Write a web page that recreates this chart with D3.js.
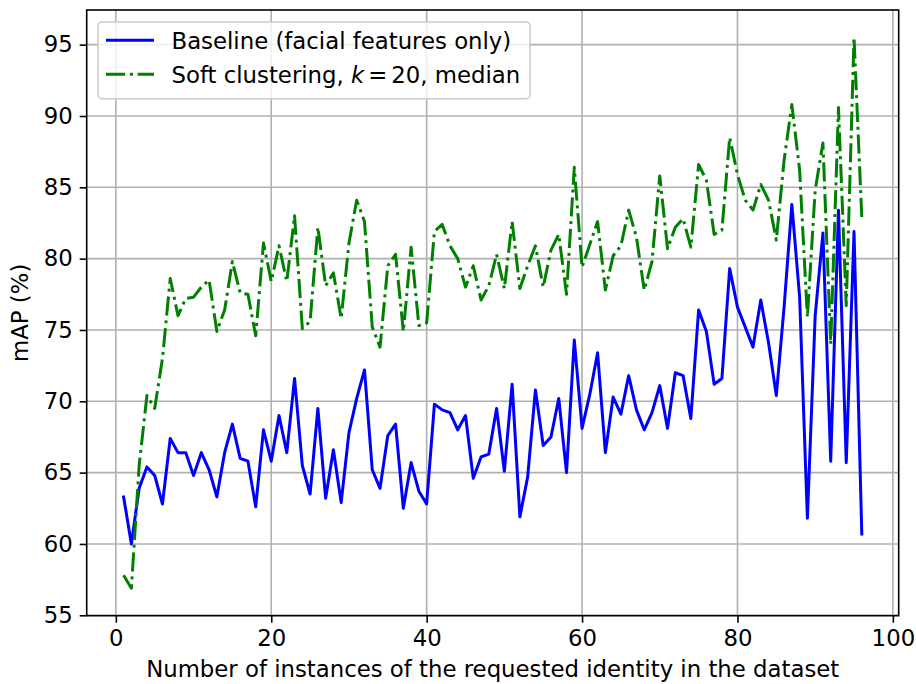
<!DOCTYPE html>
<html>
<head>
<meta charset="utf-8">
<script src="https://cdn.jsdelivr.net/npm/d3@7"></script>
<style>
  html, body { margin: 0; padding: 0; background: #fff; }
  svg { display: block; font-family: "DejaVu Sans", sans-serif; }
</style>
</head>
<body>
<svg id="chart" width="916" height="684"></svg>
<script>
// Number of instances of the requested identity (x) and mAP per method
const instances = d3.range(1, 97);

const baseline = [
  63.3, 60.0, 63.9, 65.4, 64.8, 62.8, 67.4, 66.4, 66.4, 64.8,
  66.4, 65.2, 63.3, 66.4, 68.4, 66.0, 65.8, 62.6, 68.0, 65.8,
  69.0, 66.4, 71.6, 65.5, 63.5, 69.5, 63.2, 66.6, 62.9, 67.8,
  70.2, 72.2, 65.2, 63.9, 67.6, 68.4, 62.5, 65.7, 63.7, 62.8,
  69.8, 69.4, 69.2, 68.0, 69.0, 64.6, 66.1, 66.3, 69.5, 65.1,
  71.2, 61.9, 64.7, 70.8, 66.9, 67.5, 70.2, 65.0, 74.3, 68.1,
  70.5, 73.4, 66.4, 70.3, 69.1, 71.8, 69.4, 68.0, 69.2, 71.1,
  68.1, 72.0, 71.8, 68.8, 76.4, 74.9, 71.2, 71.6, 79.3, 76.6,
  75.2, 73.8, 77.1, 74.1, 70.4, 76.6, 83.8, 77.3, 61.8, 76.0,
  81.8, 65.8, 83.4, 65.7, 81.9, 60.7
];

const softClustering = [
  57.8, 56.9, 65.5, 70.4, 69.5, 73.0, 78.6, 76.0, 77.2, 77.3,
  78.0, 78.5, 74.9, 76.4, 79.8, 77.6, 77.5, 74.6, 81.1, 78.4,
  80.9, 78.4, 83.0, 75.1, 75.6, 82.2, 78.1, 79.0, 75.8, 81.1,
  84.1, 82.6, 75.2, 73.8, 79.5, 80.3, 74.9, 80.8, 75.3, 75.5,
  81.9, 82.4, 80.9, 80.0, 78.0, 79.5, 77.1, 78.1, 80.3, 77.9,
  82.6, 77.9, 79.5, 80.9, 78.0, 80.6, 81.7, 77.5, 86.4, 79.4,
  81.0, 82.6, 77.8, 80.2, 80.9, 83.4, 81.5, 77.8, 79.8, 85.8,
  80.7, 82.2, 82.8, 80.8, 86.6, 85.5, 81.7, 82.0, 88.5, 85.9,
  84.1, 83.4, 85.2, 84.1, 81.3, 86.9, 90.8, 86.2, 75.9, 84.8,
  88.1, 74.0, 90.6, 76.7, 95.5, 82.9
];

const xTicks = [0, 20, 40, 60, 80, 100];
const yTicks = [55, 60, 65, 70, 75, 80, 85, 90, 95];

const seriesNames = ["Baseline (facial features only)", "Soft clustering, k = 20, median"];
const seriesColors = ["#0000ff", "#008000"];

const fontSize = 22.8;
const svg = d3.select("#chart");
const plot = { left: 86.7, right: 898.7, top: 10, bottom: 615.7 };

// Axis limits padded by 5% of the data span on each side
function padded(lo, hi) {
  const m = (hi - lo) * 0.05;
  return [lo - m, hi + m];
}
const xExt = d3.extent(instances);
const yExt = d3.extent(baseline.concat(softClustering));

const x = d3.scaleLinear().domain(padded(xExt[0], xExt[1])).range([plot.left, plot.right]);
const y = d3.scaleLinear().domain(padded(yExt[0], yExt[1])).range([plot.bottom, plot.top]);

// Grid
const grid = svg.append("g").attr("stroke", "#b0b0b0").attr("stroke-width", 1.6);
grid.selectAll("line.vx").data(xTicks).join("line")
  .attr("x1", d => x(d)).attr("x2", d => x(d))
  .attr("y1", plot.top).attr("y2", plot.bottom);
grid.selectAll("line.hy").data(yTicks).join("line")
  .attr("x1", plot.left).attr("x2", plot.right)
  .attr("y1", d => y(d)).attr("y2", d => y(d));

// Lines
svg.append("defs").append("clipPath").attr("id", "plotclip")
  .append("rect").attr("x", plot.left).attr("y", plot.top)
  .attr("width", plot.right - plot.left).attr("height", plot.bottom - plot.top);

const lineGen = d3.line().x((d, i) => x(instances[i])).y(d => y(d));
const lines = svg.append("g").attr("clip-path", "url(#plotclip)");
lines.append("path").datum(baseline)
  .attr("d", lineGen).attr("fill", "none")
  .attr("stroke", seriesColors[0]).attr("stroke-width", 3)
  .attr("stroke-linejoin", "round").attr("stroke-linecap", "square");
lines.append("path").datum(softClustering)
  .attr("d", lineGen).attr("fill", "none")
  .attr("stroke", seriesColors[1]).attr("stroke-width", 3)
  .attr("stroke-linejoin", "round").attr("stroke-linecap", "butt")
  .attr("stroke-dasharray", "19.1,4.8,3,4.8");

// Axes
const xAxis = d3.axisBottom(x).tickValues(xTicks).tickSize(7).tickPadding(7).tickFormat(d3.format("d"));
const yAxis = d3.axisLeft(y).tickValues(yTicks).tickSize(7).tickPadding(7).tickFormat(d3.format("d"));

const gx = svg.append("g").attr("transform", `translate(0,${plot.bottom})`).call(xAxis);
const gy = svg.append("g").attr("transform", `translate(${plot.left},0)`).call(yAxis);
[gx, gy].forEach(g => {
  g.select(".domain").remove();
  g.selectAll(".tick line").attr("stroke", "#000").attr("stroke-width", 1.6);
  g.selectAll(".tick text").attr("font-family", "DejaVu Sans").attr("font-size", fontSize).attr("fill", "#000");
});

// Frame
svg.append("rect")
  .attr("x", plot.left).attr("y", plot.top)
  .attr("width", plot.right - plot.left).attr("height", plot.bottom - plot.top)
  .attr("fill", "none").attr("stroke", "#000").attr("stroke-width", 1.6);

// Axis titles
svg.append("text")
  .attr("x", (plot.left + plot.right) / 2).attr("y", 677)
  .attr("text-anchor", "middle").attr("font-size", fontSize).attr("fill", "#000")
  .text("Number of instances of the requested identity in the dataset");
svg.append("text")
  .attr("transform", `translate(28,${(plot.top + plot.bottom) / 2}) rotate(-90)`)
  .attr("text-anchor", "middle").attr("font-size", fontSize).attr("fill", "#000")
  .text("mAP (%)");

// Legend
const legend = svg.append("g");
legend.append("rect")
  .attr("x", 98).attr("y", 22).attr("width", 432).attr("height", 76.7)
  .attr("rx", 4).attr("ry", 4)
  .attr("fill", "#fff").attr("fill-opacity", 0.8)
  .attr("stroke", "#cccccc").attr("stroke-width", 1.6);

const rowsY = [40.3, 74.3];
legend.append("line")
  .attr("x1", 106).attr("x2", 154).attr("y1", rowsY[0]).attr("y2", rowsY[0])
  .attr("stroke", seriesColors[0]).attr("stroke-width", 3);
legend.append("line")
  .attr("x1", 106).attr("x2", 154).attr("y1", rowsY[1]).attr("y2", rowsY[1])
  .attr("stroke", seriesColors[1]).attr("stroke-width", 3)
  .attr("stroke-dasharray", "19.1,4.8,3,4.8");

legend.append("text")
  .attr("x", 171.5).attr("y", rowsY[0] + 8.2)
  .attr("font-size", fontSize).attr("fill", "#000")
  .text(seriesNames[0]);

const t2 = legend.append("text")
  .attr("x", 171.5).attr("y", rowsY[1] + 8.2)
  .attr("font-size", fontSize).attr("fill", "#000")
  .attr("xml:space", "preserve");
t2.append("tspan").text("Soft clustering, ");
t2.append("tspan").attr("font-style", "italic").text("k");
t2.append("tspan").attr("dx", 4).text("=");
t2.append("tspan").attr("dx", 4).text("20, median");
</script>
</body>
</html>
